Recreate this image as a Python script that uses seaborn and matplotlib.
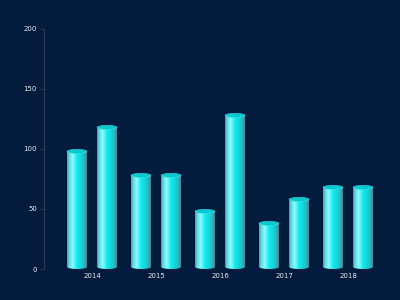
import numpy as np
import pandas as pd
import matplotlib
matplotlib.use("Agg")
import matplotlib.pyplot as plt
import seaborn as sns
from matplotlib.path import Path
from matplotlib.patches import PathPatch, Ellipse
from matplotlib.colors import LinearSegmentedColormap

years = ["2014", "2015", "2016", "2017", "2018"]
series_a = [98, 78, 48, 38, 68]
series_b = [118, 78, 128, 58, 68]
y_ticks = [0, 50, 100, 150, 200]

df = pd.DataFrame({
    "year": years * 2,
    "value": series_a + series_b,
    "series": ["a"] * len(years) + ["b"] * len(years),
})

BG = "#031c3e"
sns.set_theme(style="white")
plt.rcParams["font.family"] = ["DejaVu Sans"]

fig = plt.figure(figsize=(4, 3), dpi=100, facecolor=BG)
ax = fig.add_axes([0.11, 1 - 269 / 300, 0.84, 0.80])
ax.set_facecolor(BG)

sns.barplot(data=df, x="year", y="value", hue="series", order=years,
            width=0.94, ax=ax, legend=False, palette=["#00e0e0", "#00e0e0"])

cmap = LinearSegmentedColormap.from_list("cyl", [
    (0.0, "#6a98a8"), (0.1, "#55d8e0"), (0.28, "#8ffcff"),
    (0.5, "#12ecee"), (0.78, "#18cdd3"), (1.0, "#55899a")])
grad = np.linspace(0, 1, 256).reshape(1, -1)

bw = 0.31
eh = 3.3
for p in list(ax.patches):
    h = p.get_height()
    cx = p.get_x() + p.get_width() / 2
    p.set_visible(False)
    x0, x1 = cx - bw / 2, cx + bw / 2
    t = np.linspace(np.pi, 2 * np.pi, 40)
    arc = np.column_stack([cx + bw / 2 * np.cos(t), eh / 2 + eh / 2 * np.sin(t)])
    verts = [(x0, h)] + [(x0, eh / 2)] + arc.tolist() + [(x1, h), (x0, h)]
    codes = [Path.MOVETO] + [Path.LINETO] * (len(verts) - 2) + [Path.CLOSEPOLY]
    clip = PathPatch(Path(verts, codes), transform=ax.transData, facecolor="none", edgecolor="none")
    ax.add_patch(clip)
    im = ax.imshow(grad, cmap=cmap, aspect="auto", extent=(x0, x1, 0, h), zorder=2)
    im.set_clip_path(clip)
    ax.add_patch(Ellipse((cx, h), bw, eh, facecolor="#08c8cf", edgecolor="#2fe6ea",
                         linewidth=0.4, zorder=3))

ax.set_xlim(-0.75, 4.5)
ax.set_ylim(0, 200)
ax.set_yticks(y_ticks)
ax.set_xlabel("")
ax.set_ylabel("")
for s in ["top", "right", "bottom"]:
    ax.spines[s].set_visible(False)
ax.spines["left"].set_color("#2e3a55")
ax.spines["left"].set_linewidth(0.8)
ax.tick_params(axis="y", colors="#2e3a55", labelcolor="#e6ebf2", labelsize=5,
               length=3, width=0.6, pad=2, left=True)
ax.tick_params(axis="x", labelcolor="#e6ebf2", labelsize=5, length=0, pad=3)

fig.savefig("out.png", dpi=100, facecolor=BG)
